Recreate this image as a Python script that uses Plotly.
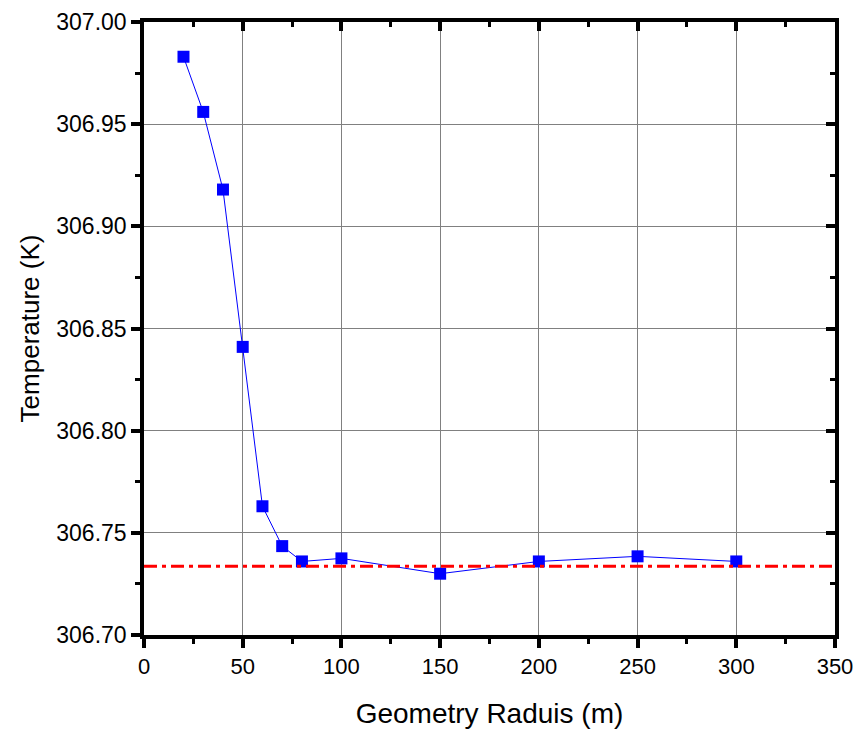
import plotly.graph_objects as go

radius = [20, 30, 40, 50, 60, 70, 80, 100, 150, 200, 250, 300]
temperature = [306.983, 306.956, 306.918, 306.841, 306.763, 306.7435, 306.736,
               306.7375, 306.730, 306.736, 306.7385, 306.736]
reference_temp = 306.7337

x_ticks = [0, 50, 100, 150, 200, 250, 300, 350]
y_ticks = [306.70, 306.75, 306.80, 306.85, 306.90, 306.95, 307.00]

fig = go.Figure()

fig.add_trace(go.Scatter(
    x=radius, y=temperature,
    mode='lines+markers',
    line=dict(color='#0000FF', width=1),
    marker=dict(symbol='square', size=12, color='#0000FF'),
    showlegend=False
))

# dummy trace so the mirror axes (inward ticks) get drawn
fig.add_trace(go.Scatter(x=[None], y=[None], xaxis='x2', yaxis='y2',
                         showlegend=False, hoverinfo='skip'))

fig.add_hline(y=reference_temp, line=dict(color='#FF0000', width=3,
                                          dash='13px,5px,4px,5px'))

font = dict(family='Liberation Sans, Arial, sans-serif', color='black')
tick_style = dict(tickcolor='black', tickwidth=3.5, ticklen=9)
minor_out = dict(ticks='outside', ticklen=5, tickwidth=3, tickcolor='black', showgrid=False)
minor_in = dict(ticks='inside', ticklen=5, tickwidth=3, tickcolor='black', showgrid=False)

fig.update_layout(
    width=858, height=735,
    margin=dict(l=144, r=23, t=22, b=100),
    paper_bgcolor='white', plot_bgcolor='white',
    font=dict(size=22, **font),
    xaxis=dict(
        range=[0, 350], tickvals=x_ticks, automargin=False,
        ticks='outside', **tick_style,
        minor=dict(dtick=25, tick0=0, **minor_out),
        showline=True, linecolor='black', linewidth=3.5,
        showgrid=True, gridcolor='#808080', gridwidth=1,
        zeroline=False,
        title=dict(text='Geometry Raduis (m)', font=dict(size=28, **font), standoff=26),
        tickfont=dict(size=22, **font),
    ),
    yaxis=dict(
        range=[306.70, 307.00], tickvals=y_ticks, automargin=False,
        tickformat='.2f',
        ticks='outside', **tick_style,
        minor=dict(dtick=0.025, tick0=306.70, **minor_out),
        showline=True, linecolor='black', linewidth=3.5,
        showgrid=True, gridcolor='#808080', gridwidth=1,
        zeroline=False,
        title=dict(text='Temperature (K)', font=dict(size=26, **font), standoff=10),
        tickfont=dict(size=23, **font),
    ),
    xaxis2=dict(
        overlaying='x', side='top', range=[0, 350], tickvals=x_ticks,
        ticks='inside', **tick_style, automargin=False,
        minor=dict(dtick=25, tick0=0, **minor_in),
        showticklabels=False, showgrid=False, zeroline=False,
        showline=True, linecolor='black', linewidth=3.5,
    ),
    yaxis2=dict(
        overlaying='y', side='right', range=[306.70, 307.00], tickvals=y_ticks,
        ticks='inside', **tick_style, automargin=False,
        minor=dict(dtick=0.025, tick0=306.70, **minor_in),
        showticklabels=False, showgrid=False, zeroline=False,
        showline=True, linecolor='black', linewidth=3.5,
    ),
)

fig.write_html('out.html', config={'displayModeBar': False},
               post_script="document.body.style.margin='0';"
                           "document.body.style.overflow='hidden';")
